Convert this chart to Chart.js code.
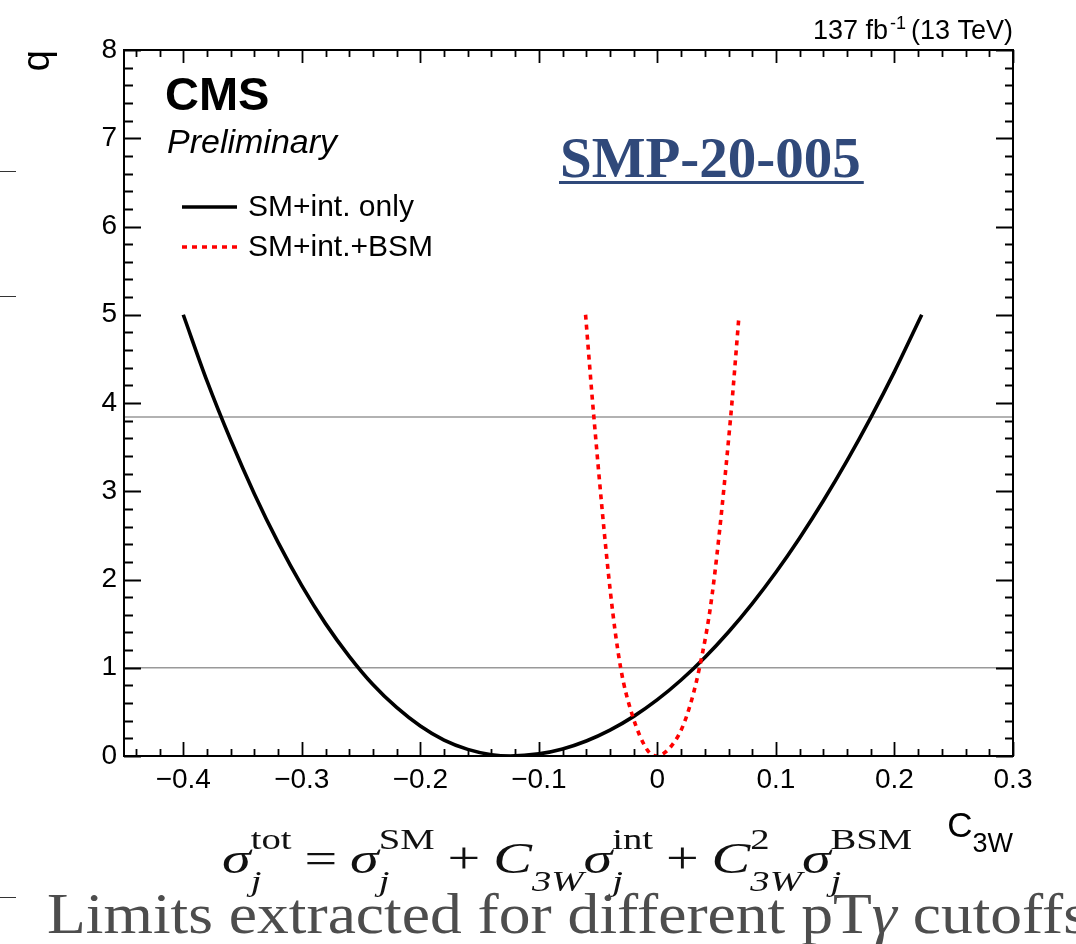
<!DOCTYPE html>
<html>
<head>
<meta charset="utf-8">
<script src="https://cdn.jsdelivr.net/npm/chart.js@4.4.1/dist/chart.umd.min.js"></script>
<style>
  html, body { margin: 0; padding: 0; background: #fff; }
  body { width: 1076px; height: 944px; position: relative; overflow: hidden; font-family: "Liberation Sans", Arial, sans-serif; }
  #wrap { position: absolute; left: 0; top: 0; width: 1076px; height: 944px; }
  .traco { position: absolute; left: 0; width: 16px; height: 0; border-top: 1.5px solid #333; }
  #formula { position: absolute; left: 222px; top: 818px; font-family: "Liberation Serif", serif; font-size: 45px; line-height: 60px; color: #111; white-space: nowrap; transform: scaleX(1.29); transform-origin: 0 0; }
  #formula .pilha { display: inline-block; vertical-align: -18px; font-size: 30px; line-height: 42px; }
  #formula .pilha span { display: block; }
  #formula .op { margin: 0 10px; }
  #limites { position: absolute; left: 47px; top: 881px; font-family: "Liberation Serif", serif; font-size: 57px; line-height: 66px; color: #4d4d4d; white-space: nowrap; transform: scaleX(1.115); transform-origin: 0 0; }
</style>
</head>
<body>
<div id="wrap"><canvas id="grafico"></canvas></div>
<div class="traco" style="top:171px"></div>
<div class="traco" style="top:296px"></div>
<div class="traco" style="top:897px"></div>
<div id="formula"><i>σ</i><span class="pilha"><span>tot</span><span><i>j</i></span></span><span class="op">=</span><i>σ</i><span class="pilha"><span>SM</span><span><i>j</i></span></span><span class="op">+</span><i>C</i><span class="pilha"><span>&nbsp;</span><span><i>3W</i></span></span><i>σ</i><span class="pilha"><span>int</span><span><i>j</i></span></span><span class="op">+</span><i>C</i><span class="pilha"><span>2</span><span><i>3W</i></span></span><i>σ</i><span class="pilha"><span>BSM</span><span><i>j</i></span></span></div>
<div id="limites">Limits extracted for different pT<i>γ</i> cutoffs</div>
<script>
  // Curva SM+int. only
  const xSM = [-0.400, -0.380, -0.360, -0.340, -0.320, -0.300, -0.280, -0.260, -0.240, -0.220, -0.200, -0.180, -0.160, -0.140, -0.124,
               -0.100, -0.080, -0.060, -0.040, -0.020, 0.000, 0.020, 0.040, 0.060, 0.080, 0.100, 0.120, 0.140, 0.160, 0.180, 0.200, 0.223];
  const qSM = [5.00, 4.25, 3.58, 2.97, 2.42, 1.93, 1.50, 1.13, 0.81, 0.55, 0.34, 0.18, 0.075, 0.015, 0.00,
               0.024, 0.080, 0.170, 0.293, 0.449, 0.638, 0.861, 1.116, 1.405, 1.727, 2.082, 2.471, 2.892, 3.347, 3.835, 4.356, 5.00];

  // Curva SM+int.+BSM
  const xBSM = [-0.0606, -0.0536, -0.0395, -0.031, -0.0212, -0.0085, -0.001, 0.0154, 0.025, 0.0355, 0.0463, 0.0618, 0.0686];
  const qBSM = [5.00, 3.84, 1.84, 1.00, 0.465, 0.068, 0.00, 0.18, 0.465, 1.00, 1.84, 3.84, 4.95];

  // Linhas de referência (68% e 95%)
  const xRef = [-0.45, 0.3];
  const niveis = [1, 3.84];

  const rotulos = ['SM+int. only', 'SM+int.+BSM'];

  const pontos = (xs, ys) => xs.map((x, i) => ({ x: x, y: ys[i] }));
  const fonte = '"Liberation Sans", Arial, sans-serif';

  function formatarX(v) {
    if (Math.abs(v) < 1e-9) return '0';
    return (v < 0 ? '\u2212' : '') + Math.abs(v).toFixed(1);
  }

  // Moldura estilo ROOT: ticks para dentro nos quatro lados, legenda e textos
  const molduraROOT = {
    id: 'molduraROOT',
    afterDraw(chart) {
      const ctx = chart.ctx;
      const a = chart.chartArea;
      const sx = chart.scales.x;
      const sy = chart.scales.y;
      ctx.save();
      ctx.strokeStyle = '#000';
      ctx.lineWidth = 1.8;
      ctx.beginPath();
      for (let i = -22; i <= 15; i++) {
        const px = Math.round(sx.getPixelForValue(i * 0.02)) + 0.5;
        const maior = i % 5 === 0;
        ctx.moveTo(px, a.bottom);
        ctx.lineTo(px, a.bottom - (maior ? 14 : 7));
        ctx.moveTo(px, a.top);
        ctx.lineTo(px, a.top + (maior ? 13 : 7));
      }
      for (let i = 0; i <= 40; i++) {
        const py = Math.round(sy.getPixelForValue(i * 0.2)) + 0.5;
        const maior = i % 5 === 0;
        ctx.moveTo(a.left, py);
        ctx.lineTo(a.left + (maior ? 17 : 9), py);
        ctx.moveTo(a.right, py);
        ctx.lineTo(a.right - (maior ? 17 : 8), py);
      }
      ctx.stroke();
      ctx.lineWidth = 2;
      ctx.strokeRect(a.left, a.top, a.right - a.left, a.bottom - a.top);

      // CMS Preliminary
      ctx.fillStyle = '#000';
      ctx.textAlign = 'left';
      ctx.textBaseline = 'alphabetic';
      ctx.font = 'bold 47px ' + fonte;
      ctx.fillText('CMS', 165, 110);
      ctx.font = 'italic 34px ' + fonte;
      ctx.fillText('Preliminary', 167, 153);

      // Legenda
      ctx.font = '30px ' + fonte;
      ctx.textBaseline = 'middle';
      const ys = [207, 247];
      chart.data.datasets.slice(0, 2).forEach((ds, i) => {
        ctx.beginPath();
        ctx.strokeStyle = ds.borderColor;
        ctx.lineWidth = ds.borderWidth;
        ctx.setLineDash(ds.borderDash || []);
        ctx.moveTo(182, ys[i]);
        ctx.lineTo(237, ys[i]);
        ctx.stroke();
        ctx.setLineDash([]);
        ctx.fillText(ds.label, 248, ys[i] + 1);
      });

      // SMP-20-005
      ctx.textBaseline = 'alphabetic';
      ctx.font = 'bold 57px "Liberation Serif", serif';
      ctx.fillStyle = '#30497a';
      const w = ctx.measureText('SMP-20-005').width;
      ctx.fillText('SMP-20-005', 560, 177);
      ctx.fillRect(559, 181, w + 4, 3);

      // Luminosidade
      ctx.fillStyle = '#000';
      ctx.textAlign = 'right';
      ctx.font = '27px ' + fonte;
      ctx.fillText('(13 TeV)', a.right, 39);
      let x = a.right - ctx.measureText('(13 TeV)').width - 5;
      ctx.font = '18px ' + fonte;
      ctx.fillText('-1', x, 29);
      x -= ctx.measureText('-1').width + 2;
      ctx.font = '27px ' + fonte;
      ctx.fillText('137 fb', x, 39);

      // Título eixo x: C_3W
      ctx.font = '27px ' + fonte;
      ctx.fillText('3W', a.right, 852);
      const w3 = ctx.measureText('3W').width;
      ctx.font = '35px ' + fonte;
      ctx.fillText('C', a.right - w3, 837);

      // Título eixo y: q
      ctx.translate(49, a.top);
      ctx.rotate(-Math.PI / 2);
      ctx.textAlign = 'right';
      ctx.font = '38px ' + fonte;
      ctx.fillText('q', 0, 0);
      ctx.restore();
    }
  };

  const ctx = document.getElementById('grafico').getContext('2d');
  const grafico = new Chart(ctx, {
    type: 'line',
    data: {
      datasets: [
        {
          label: rotulos[0],
          data: pontos(xSM, qSM),
          borderColor: '#000',
          borderWidth: 3.6,
          pointRadius: 0,
          cubicInterpolationMode: 'monotone',
          order: 1
        },
        {
          label: rotulos[1],
          data: pontos(xBSM, qBSM),
          borderColor: '#ff0000',
          borderWidth: 3.6,
          borderDash: [5, 5],
          pointRadius: 0,
          cubicInterpolationMode: 'monotone',
          order: 0
        },
        {
          label: 'q = 1',
          data: pontos(xRef, [niveis[0], niveis[0]]),
          borderColor: '#999',
          borderWidth: 1.5,
          pointRadius: 0,
          order: 5
        },
        {
          label: 'q = 3.84',
          data: pontos(xRef, [niveis[1], niveis[1]]),
          borderColor: '#999',
          borderWidth: 1.5,
          pointRadius: 0,
          order: 5
        }
      ]
    },
    options: {
      responsive: true,
      maintainAspectRatio: false,
      animation: false,
      layout: { padding: { left: 64, right: 63, top: 50, bottom: 138 } },
      plugins: { legend: { display: false }, tooltip: { enabled: false } },
      scales: {
        x: {
          type: 'linear',
          min: -0.45,
          max: 0.3,
          grid: { display: false, drawTicks: false },
          border: { display: false },
          ticks: {
            stepSize: 0.1,
            includeBounds: false,
            padding: 7,
            color: '#000',
            font: { family: fonte, size: 28 },
            callback: v => formatarX(v)
          },
          afterFit: s => { s.height = 50; }
        },
        y: {
          min: 0,
          max: 8,
          grid: { display: false, drawTicks: false },
          border: { display: false },
          ticks: {
            stepSize: 1,
            padding: 7,
            color: '#000',
            font: { family: fonte, size: 28 }
          },
          afterFit: s => { s.width = 60; }
        }
      }
    },
    plugins: [molduraROOT]
  });
</script>
</body>
</html>
